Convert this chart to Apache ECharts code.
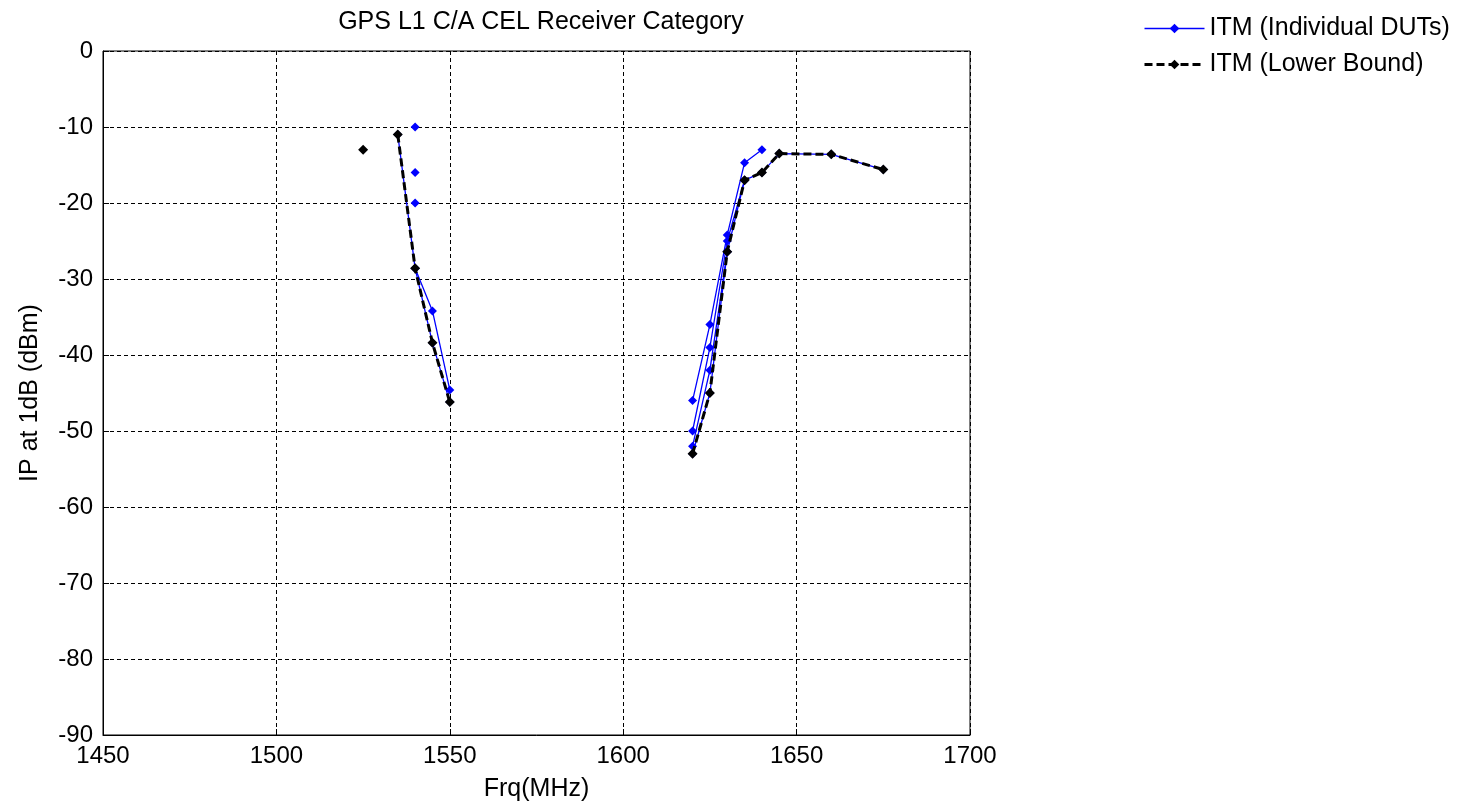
<!DOCTYPE html>
<html>
<head>
<meta charset="utf-8">
<script src="https://cdn.jsdelivr.net/npm/echarts@6/dist/echarts.min.js"></script>
<style>
html,body{margin:0;padding:0;background:#fff;}
#chart{width:1466px;height:809px;}
</style>
</head>
<body>
<div id="chart"></div>
<script>
// ---- data (null = gap in the line) ----
const xTicks = [1450, 1500, 1550, 1600, 1650, 1700];
const yTicks = [0, -10, -20, -30, -40, -50, -60, -70, -80, -90];

const dut1Frq = [1535, 1540, 1545, 1550, null, 1620, 1625, 1630, 1635, 1640];
const dut1Ip  = [-11, -28.6, -34.2, -44.6, null, -46, -36, -24.2, -14.7, -13];

const dut2Frq = [1540, null, 1620, 1625, 1630, 1635, 1640, 1645, 1660, 1675];
const dut2Ip  = [-10, null, -50, -39, -25, -17, -16, -13.5, -13.6, -15.6];

const dut3Frq = [1540, null, 1620, 1625, 1630, 1635];
const dut3Ip  = [-16, null, -52, -42, -26.4, -17];

const dut4Frq = [1540, null, 1620, 1625, 1630];
const dut4Ip  = [-20, null, -53, -45, -26.4];

const dut5Frq = [1540, 1545, 1550];
const dut5Ip  = [-28.6, -38.4, -46.2];

const lowerFrq = [1525, null, 1535, 1540, 1545, 1550, null, 1620, 1625, 1630, 1635, 1640, 1645, 1660, 1675];
const lowerIp  = [-13, null, -11, -28.6, -38.4, -46.2, null, -53, -45, -26.4, -17, -16, -13.5, -13.6, -15.6];

const dutName = 'ITM (Individual DUTs)';
const lowerName = 'ITM (Lower Bound)';

function pairs(fx, fy) {
  return fx.map((x, i) => (x === null || fy[i] === null) ? ['-', '-'] : [x, fy[i]]);
}

const FONT = 'Liberation Sans, Arial, sans-serif';

const dutSets = [[dut1Frq, dut1Ip], [dut2Frq, dut2Ip], [dut3Frq, dut3Ip], [dut4Frq, dut4Ip], [dut5Frq, dut5Ip]];

const series = dutSets.map(([fx, fy]) => ({
  name: dutName,
  type: 'line',
  data: pairs(fx, fy),
  symbol: 'diamond',
  symbolSize: 9,
  showAllSymbol: true,
  connectNulls: false,
  itemStyle: { color: '#0000ff' },
  lineStyle: { color: '#0000ff', width: 1.3 },
  emphasis: { disabled: true },
  animation: false,
  z: 2
}));

series.push({
  name: lowerName,
  type: 'line',
  data: pairs(lowerFrq, lowerIp),
  symbol: 'diamond',
  symbolSize: 10,
  showAllSymbol: true,
  connectNulls: false,
  itemStyle: { color: '#000000' },
  lineStyle: { color: '#000000', width: 3, type: [8, 4] },
  emphasis: { disabled: true },
  animation: false,
  z: 3
});

const chart = echarts.init(document.getElementById('chart'), null, { renderer: 'canvas' });
chart.setOption({
  backgroundColor: '#ffffff',
  animation: false,
  title: {
    text: 'GPS L1 C/A CEL Receiver Category',
    left: 536,
    top: 5,
    textAlign: 'center',
    textStyle: { fontFamily: FONT, fontSize: 25, fontWeight: 'normal', color: '#000' }
  },
  legend: {
    data: [
      { name: dutName, lineStyle: { color: '#0000ff', width: 1.5, type: 'solid' } },
      { name: lowerName, lineStyle: { color: '#000000', width: 3, type: [8, 4] } }
    ],
    orient: 'vertical',
    left: 1138,
    top: 11,
    itemWidth: 60,
    itemHeight: 12,
    itemGap: 11,
    textStyle: { fontFamily: FONT, fontSize: 25, color: '#000' }
  },
  grid: {
    left: 103, right: 496, top: 51, bottom: 74,
    show: true, borderColor: '#000', borderWidth: 1, backgroundColor: '#fff'
  },
  xAxis: {
    type: 'value',
    min: xTicks[0], max: xTicks[xTicks.length - 1], interval: 50,
    name: 'Frq(MHz)',
    nameLocation: 'middle',
    nameGap: 42,
    nameTextStyle: { fontFamily: FONT, fontSize: 25, color: '#000' },
    axisLine: { show: true, onZero: false, lineStyle: { color: '#000', width: 1 } },
    axisTick: { show: true, inside: true, length: 6, lineStyle: { color: '#000' } },
    axisLabel: { fontFamily: FONT, fontSize: 24, color: '#000', margin: 9, formatter: v => String(v) },
    splitLine: { show: true, lineStyle: { color: '#000', width: 1, type: [4, 3] } }
  },
  yAxis: {
    type: 'value',
    min: yTicks[yTicks.length - 1], max: yTicks[0], interval: 10,
    name: 'IP at 1dB (dBm)',
    nameLocation: 'middle',
    nameGap: 60,
    nameTextStyle: { fontFamily: FONT, fontSize: 25, color: '#000' },
    axisLine: { show: true, onZero: false, lineStyle: { color: '#000', width: 1 } },
    axisTick: { show: true, inside: true, length: 6, lineStyle: { color: '#000' } },
    axisLabel: { fontFamily: FONT, fontSize: 24, color: '#000', margin: 10, formatter: v => String(v) },
    splitLine: { show: true, lineStyle: { color: '#000', width: 1, type: [4, 3] } }
  },
  series: series
});
</script>
</body>
</html>
